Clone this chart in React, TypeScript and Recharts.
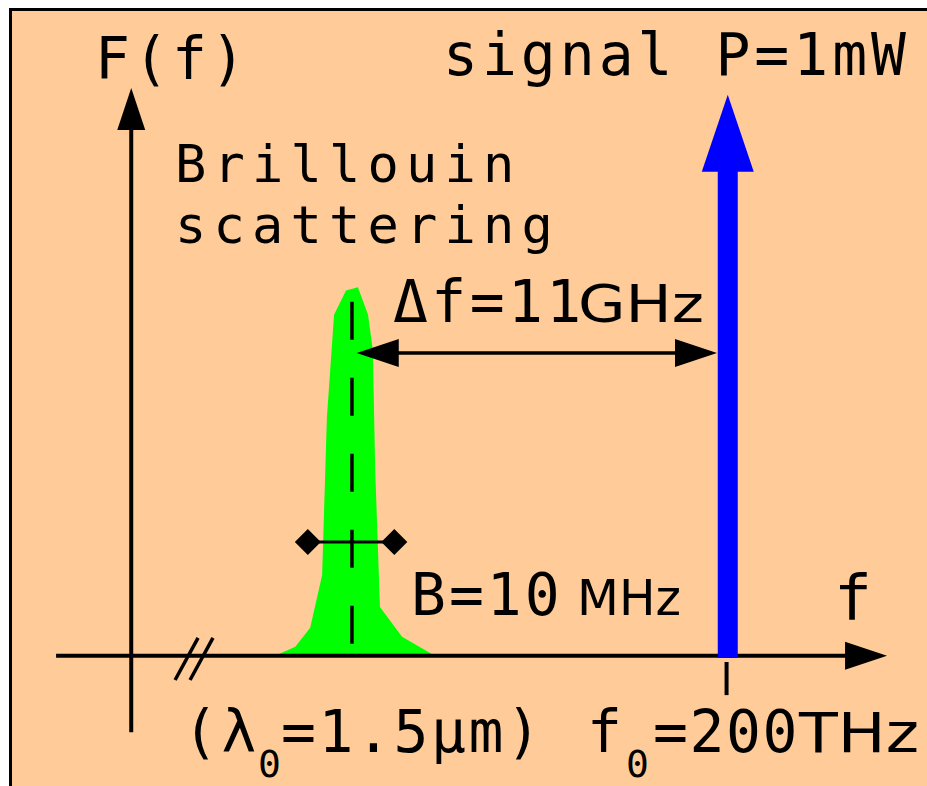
import React from 'react';
import { ComposedChart, XAxis, YAxis, Area, Line, Scatter, Customized } from 'recharts';

// ---- coordinate system (data units): x = frequency (signal f0 at 100), y = spectral density (signal arrow tip at 100)
const X_DOMAIN: [number, number] = [-22, 133.4];
const Y_DOMAIN: [number, number] = [-23.2, 116.9];

// Brillouin scattering line shape
const brillouinX = [24.1, 27.5, 30.0, 32.0, 32.8, 34.0, 36.0, 38.0, 39.7, 40.5, 40.9, 41.7, 45.4, 50.9];
const brillouinY = [0, 1.6, 5.0, 14.4, 42.5, 60.8, 65.1, 65.7, 60.8, 54.5, 33.1, 8.7, 3.4, 0];

// dashed centre of the Brillouin line
const centreLine = [
  { x: 37.0, y: 63.1 },
  { x: 37.0, y: 1.4 },
];

// signal line (f0, P)
const signalShaft = [
  { x: 100, y: -0.4 },
  { x: 100, y: 87 },
];
const signalTip = [{ x: 100, y: 100, dir: 'up', kind: 'signal' }];

// axes
const xAxisLine = [
  { x: -12.6, y: 0 },
  { x: 124, y: 0 },
];
const yAxisLine = [
  { x: 0, y: -13.6 },
  { x: 0, y: 96 },
];
const axisTips = [
  { x: 126.7, y: 0, dir: 'right', kind: 'axis' },
  { x: 0, y: 101.2, dir: 'up', kind: 'axis' },
];
const breakMark1 = [
  { x: 7.35, y: -4.3 },
  { x: 11.2, y: 3.2 },
];
const breakMark2 = [
  { x: 9.86, y: -4.3 },
  { x: 13.7, y: 3.2 },
];
const f0Tick = [
  { x: 99.8, y: -1.1 },
  { x: 99.8, y: -7.0 },
];

// Δf dimension arrow
const deltaFLine = [
  { x: 39, y: 54.0 },
  { x: 97, y: 54.0 },
];
const deltaFTips = [
  { x: 37.8, y: 54.0, dir: 'left', kind: 'dim' },
  { x: 98.2, y: 54.0, dir: 'right', kind: 'dim' },
];

// bandwidth B marker
const bandwidthLine = [
  { x: 29.6, y: 20.3 },
  { x: 44.1, y: 20.3 },
];
const bandwidthEnds = [
  { x: 29.6, y: 20.3, dir: 'diamond', kind: 'diamond' },
  { x: 44.1, y: 20.3, dir: 'diamond', kind: 'diamond' },
];

// texts
const yLabel = 'F(f)';
const brillouinLabel = ['Brillouin', 'scattering'];
const signalLabel = 'signal P=1mW';
const deltaLabel = ['Δf=11', 'GHz'];
const bLabel = ['B=10', 'MHz'];
const lambdaLabel = ['(', 'λ', '0', '=1.5μm)'];
const f0Label = ['f', '0', '=200', 'THz'];
const xLabel = 'f';

const brillouinData = brillouinX.map((x, i) => ({ x, y: brillouinY[i] }));

const MONO = "'DejaVu Sans Mono', monospace";
const SANS = "'DejaVu Sans', sans-serif";

const headStyles: Record<string, { L: number; h: number; fill: string }> = {
  axis: { L: 42, h: 14, fill: '#000' },
  dim: { L: 42, h: 14, fill: '#000' },
  signal: { L: 77, h: 26, fill: '#0000ff' },
  diamond: { L: 13, h: 13, fill: '#000' },
};

const Head = (props: any) => {
  const { cx, cy } = props;
  const p = props.payload ?? props;
  const s = headStyles[p.kind] ?? headStyles.axis;
  let pts = '';
  if (p.dir === 'up') pts = `${cx},${cy} ${cx - s.h},${cy + s.L} ${cx + s.h},${cy + s.L}`;
  else if (p.dir === 'right') pts = `${cx},${cy} ${cx - s.L},${cy - s.h} ${cx - s.L},${cy + s.h}`;
  else if (p.dir === 'left') pts = `${cx},${cy} ${cx + s.L},${cy - s.h} ${cx + s.L},${cy + s.h}`;
  else pts = `${cx - s.L},${cy} ${cx},${cy - s.h} ${cx + s.L},${cy} ${cx},${cy + s.h}`;
  return <polygon points={pts} fill={s.fill} />;
};

const FS = 58;

const Texts = () => (
  <g fill="#000">
    <text x={95} y={79} fontFamily={MONO} fontSize={FS} letterSpacing={3.6}>{yLabel}</text>
    <text x={175} y={182} fontFamily={MONO} fontSize={52} letterSpacing={7.2}>{brillouinLabel[0]}</text>
    <text x={175} y={243} fontFamily={MONO} fontSize={52} letterSpacing={7.2}>{brillouinLabel[1]}</text>
    <text x={443} y={75} fontFamily={MONO} fontSize={FS} letterSpacing={4} style={{ whiteSpace: 'pre' }}>{signalLabel}</text>
    <text x={393} y={322} fontFamily={MONO} fontSize={FS} letterSpacing={3.4}>{deltaLabel[0]}</text>
    <text x={578} y={322} fontFamily={SANS} fontSize={52} textLength={126} lengthAdjust="spacingAndGlyphs">{deltaLabel[1]}</text>
    <text x={411} y={615} fontFamily={MONO} fontSize={FS} letterSpacing={3}>{bLabel[0]}</text>
    <text x={577} y={615} fontFamily={SANS} fontSize={50} textLength={104} lengthAdjust="spacingAndGlyphs">{bLabel[1]}</text>
    <text x={183} y={752} fontFamily={MONO} fontSize={FS}>
      <tspan>{lambdaLabel[0]}</tspan>
      <tspan dx={3.6}>{lambdaLabel[1]}</tspan>
    </text>
    <text x={258} y={777} fontFamily={MONO} fontSize={38}>{lambdaLabel[2]}</text>
    <text x={281} y={752} fontFamily={MONO} fontSize={FS} letterSpacing={2.6}>{lambdaLabel[3]}</text>
    <text x={587} y={752} fontFamily={MONO} fontSize={FS}>{f0Label[0]}</text>
    <text x={626} y={777} fontFamily={MONO} fontSize={38}>{f0Label[1]}</text>
    <text x={653} y={752} fontFamily={MONO} fontSize={FS} letterSpacing={1.6}>{f0Label[2]}</text>
    <text x={799} y={752} fontFamily={SANS} fontSize={56} textLength={120} lengthAdjust="spacingAndGlyphs">{f0Label[3]}</text>
    <text x={834} y={619} fontFamily={MONO} fontSize={63}>{xLabel}</text>
  </g>
);

const seg = (data: any[], stroke: string, width: number, key: string, dash?: string) => (
  <Line
    key={key}
    data={data}
    dataKey="y"
    type="linear"
    stroke={stroke}
    strokeWidth={width}
    strokeDasharray={dash}
    dot={false}
    activeDot={false}
    isAnimationActive={false}
    legendType="none"
  />
);

export default function App() {
  return (
    <div style={{ position: 'absolute', left: 0, top: 0, width: 927, height: 786, overflow: 'hidden', background: '#fff' }}>
      <div
        style={{
          position: 'absolute',
          left: 8.5,
          top: 8.3,
          width: 1000,
          height: 1000,
          background: '#ffcc99',
          borderLeft: '3.8px solid #000',
          borderTop: '3.4px solid #000',
        }}
      />
      <div style={{ position: 'absolute', left: 0, top: 0 }}>
        <ComposedChart width={927} height={786} margin={{ top: 0, right: 0, bottom: 0, left: 0 }}>
          <XAxis type="number" dataKey="x" domain={X_DOMAIN} allowDataOverflow hide />
          <YAxis type="number" dataKey="y" domain={Y_DOMAIN} allowDataOverflow hide />
          <Area
            data={brillouinData}
            dataKey="y"
            type="linear"
            fill="#00ff00"
            fillOpacity={1}
            stroke="none"
            baseValue={0}
            dot={false}
            activeDot={false}
            isAnimationActive={false}
          />
          {seg(xAxisLine, '#000', 4, 'xa')}
          {seg(yAxisLine, '#000', 4, 'ya')}
          {seg(breakMark1, '#000', 3.5, 'b1')}
          {seg(breakMark2, '#000', 3.5, 'b2')}
          {seg(f0Tick, '#000', 4, 'tick')}
          {seg(centreLine, '#000', 3.5, 'centre', '38 38')}
          {seg(deltaFLine, '#000', 3.5, 'df')}
          {seg(bandwidthLine, '#000', 3, 'bw')}
          {seg(signalShaft, '#0000ff', 20, 'shaft')}
          <Scatter data={axisTips} dataKey="y" shape={Head} isAnimationActive={false} />
          <Scatter data={deltaFTips} dataKey="y" shape={Head} isAnimationActive={false} />
          <Scatter data={bandwidthEnds} dataKey="y" shape={Head} isAnimationActive={false} />
          <Scatter data={signalTip} dataKey="y" shape={Head} isAnimationActive={false} />
          <Customized component={Texts} />
        </ComposedChart>
      </div>
    </div>
  );
}
